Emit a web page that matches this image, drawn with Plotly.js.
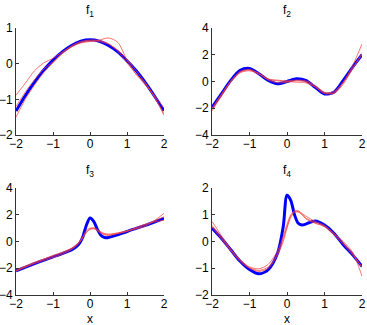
<!DOCTYPE html>
<html><head><meta charset="utf-8">
<script src="https://cdn.plot.ly/plotly-3.0.1.min.js"></script>
<style>html,body{margin:0;padding:0;background:#fff}#plot{width:367px;height:325px}</style>
</head><body><div id="plot"></div>
<script>
// Panel 1
const x1 = [-2,-1.75,-1.5,-1.25,-1,-0.75,-0.5,-0.25,0,0.25,0.5,0.75,1,1.25,1.5,1.75,2];
const f1True = [-1.33,-0.9,-0.52,-0.18,0.1,0.33,0.51,0.63,0.67,0.63,0.51,0.33,0.08,-0.2,-0.54,-0.92,-1.32];
const f1EstA = [-0.88,-0.55,-0.2,0.02,0.15,0.33,0.48,0.58,0.62,0.66,0.72,0.6,0.1,-0.3,-0.55,-0.95,-1.45];
const f1EstB = [-1.5,-1.0,-0.6,-0.25,0.02,0.28,0.47,0.6,0.64,0.62,0.55,0.38,0.12,-0.2,-0.55,-0.95,-1.4];
const f1EstC = [-1.2,-0.8,-0.45,-0.15,0.05,0.3,0.5,0.62,0.66,0.65,0.56,0.35,0.02,-0.3,-0.6,-0.9,-1.25];
// Panel 2
const x2 = [-2,-1.75,-1.5,-1.25,-1,-0.75,-0.5,-0.25,0,0.25,0.5,0.75,1,1.25,1.5,1.75,2];
const f2True = [-1.93,-0.93,0.08,0.83,0.98,0.58,0.08,-0.17,0.0,0.2,0.08,-0.43,-0.93,-0.8,0.08,1.08,2.0];
const f2EstA = [-2.2,-1.1,-0.05,0.65,0.8,0.55,0.15,0.05,0.0,-0.05,-0.1,-0.4,-0.85,-0.75,-0.05,1.2,2.8];
const f2EstB = [-2.0,-0.95,0.05,0.75,0.9,0.6,0.12,-0.1,-0.05,0.05,-0.02,-0.4,-0.9,-0.85,-0.05,1.0,2.1];
const f2EstC = [-2.1,-1.0,0.0,0.7,0.85,0.6,0.2,0.1,0.05,0.1,0.05,-0.3,-0.8,-0.9,-0.2,0.95,2.0];
// Panel 3
const x3 = [-2,-1.5,-1,-0.75,-0.5,-0.4,-0.3,-0.2,-0.1,0,0.1,0.2,0.3,0.4,0.5,0.75,1,1.5,2];
const f3True = [-2.2,-1.65,-1.15,-0.9,-0.62,-0.45,-0.2,0.3,1.2,1.76,1.5,0.9,0.45,0.3,0.3,0.5,0.75,1.2,1.72];
const f3EstA = [-2.2,-1.6,-1.05,-0.8,-0.5,-0.3,-0.05,0.35,0.8,1.0,1.02,0.9,0.7,0.6,0.55,0.65,0.8,1.15,2.1];
const f3EstB = [-2.15,-1.55,-1.1,-0.85,-0.55,-0.35,-0.1,0.3,0.7,0.95,0.98,0.85,0.65,0.55,0.5,0.6,0.75,1.25,1.85];
const f3EstC = [-2.2,-1.65,-1.2,-0.95,-0.6,-0.4,-0.15,0.25,0.65,0.9,0.95,0.8,0.6,0.5,0.45,0.6,0.78,1.3,1.6];
// Panel 4
const x4 = [-2,-1.75,-1.5,-1.25,-1,-0.75,-0.5,-0.25,-0.1,0,0.1,0.2,0.3,0.4,0.5,0.75,1,1.25,1.5,1.75,2];
const f4True = [0.5,0.12,-0.31,-0.74,-1.05,-1.21,-1.05,-0.43,0.56,1.73,1.54,1.0,0.68,0.62,0.65,0.77,0.62,0.31,-0.12,-0.5,-0.93];
const f4EstA = [0.75,0.22,-0.3,-0.68,-0.95,-1.02,-0.85,-0.35,0.2,0.65,1.0,1.15,1.15,1.05,0.95,0.75,0.6,0.3,0.0,-0.4,-1.3];
const f4EstB = [0.6,0.15,-0.3,-0.7,-0.98,-1.08,-0.95,-0.45,0.1,0.55,0.95,1.12,1.12,1.02,0.88,0.7,0.55,0.25,-0.1,-0.5,-0.95];
const f4EstC = [0.55,0.1,-0.35,-0.75,-1.0,-1.12,-1.0,-0.5,0.0,0.5,0.9,1.08,1.1,1.0,0.85,0.68,0.58,0.3,-0.05,-0.45,-0.98];

const titles = ['f<sub>1</sub>', 'f<sub>2</sub>', 'f<sub>3</sub>', 'f<sub>4</sub>'];
const xTickVals = [-2, -1, 0, 1, 2];
const xLabel = 'x';

const panels = [
  {x: x1, t: f1True, e: [f1EstA, f1EstB, f1EstC]},
  {x: x2, t: f2True, e: [f2EstA, f2EstB, f2EstC]},
  {x: x3, t: f3True, e: [f3EstA, f3EstB, f3EstC]},
  {x: x4, t: f4True, e: [f4EstA, f4EstB, f4EstC]}
];
const yRanges = [[-2,1],[-4,4],[-4,4],[-2,2]];
const yDticks = [1,2,2,1];

const W = 367, H = 325;
const FONT = 'Liberation Sans, Arial, Helvetica, sans-serif';
const xDom = [[16/W, 164/W],[212/W, 362/W]];
const yDom = [[(H-135)/H, (H-28)/H],[(H-295)/H, (H-188)/H]];

const traces = [];
const layout = {
  width: W, height: H, margin: {l:0,r:0,t:0,b:0},
  paper_bgcolor: '#fff', plot_bgcolor: '#fff', showlegend: false,
  font: {family: FONT, size: 12, color: '#000'},
  annotations: []
};
panels.forEach((p, i) => {
  const n = i + 1;
  const xa = n === 1 ? 'x' : 'x' + n;
  const ya = n === 1 ? 'y' : 'y' + n;
  traces.push({x: p.x, y: p.t, xaxis: xa, yaxis: ya, mode: 'lines',
    line: {color: 'rgb(0,0,255)', width: 3, shape: 'spline', smoothing: 0.8}});
  p.e.forEach(e => traces.push({x: p.x, y: e, xaxis: xa, yaxis: ya, mode: 'lines',
    line: {color: 'rgba(245,60,60,0.8)', width: 0.9, shape: 'spline', smoothing: 0.8}}));
  const col = i % 2, row = Math.floor(i / 2);
  const axCommon = {showgrid: false, zeroline: false, showline: true, linecolor: '#333', linewidth: 1,
    ticks: 'inside', ticklen: 3, tickcolor: '#333', mirror: false, fixedrange: true,
    tickfont: {size: 12, family: FONT, color: '#000'}};
  layout['xaxis' + (n === 1 ? '' : n)] = Object.assign({}, axCommon, {
    domain: xDom[col], range: [-2, 2], tickvals: xTickVals, anchor: ya,
    ticklabelstandoff: -2
  });
  layout['yaxis' + (n === 1 ? '' : n)] = Object.assign({}, axCommon, {
    domain: yDom[row], range: yRanges[i], dtick: yDticks[i], tick0: 0, anchor: xa
  });
  const cx = (xDom[col][0] + xDom[col][1]) / 2;
  layout.annotations.push({text: titles[i], xref: 'paper', yref: 'paper',
    x: cx, y: yDom[row][1] + 7/H, xanchor: 'center', yanchor: 'bottom',
    showarrow: false, font: {size: 12, family: FONT}});
  if (row === 1) {
    layout.annotations.push({text: xLabel, xref: 'paper', yref: 'paper',
      x: cx, y: (H - 318.5) / H, xanchor: 'center', yanchor: 'middle',
      height: 10, borderpad: 0, valign: 'middle',
      showarrow: false, font: {size: 12, family: FONT}});
  }
});
Plotly.newPlot('plot', traces, layout, {displayModeBar: false, staticPlot: true});
</script>
</body></html>
